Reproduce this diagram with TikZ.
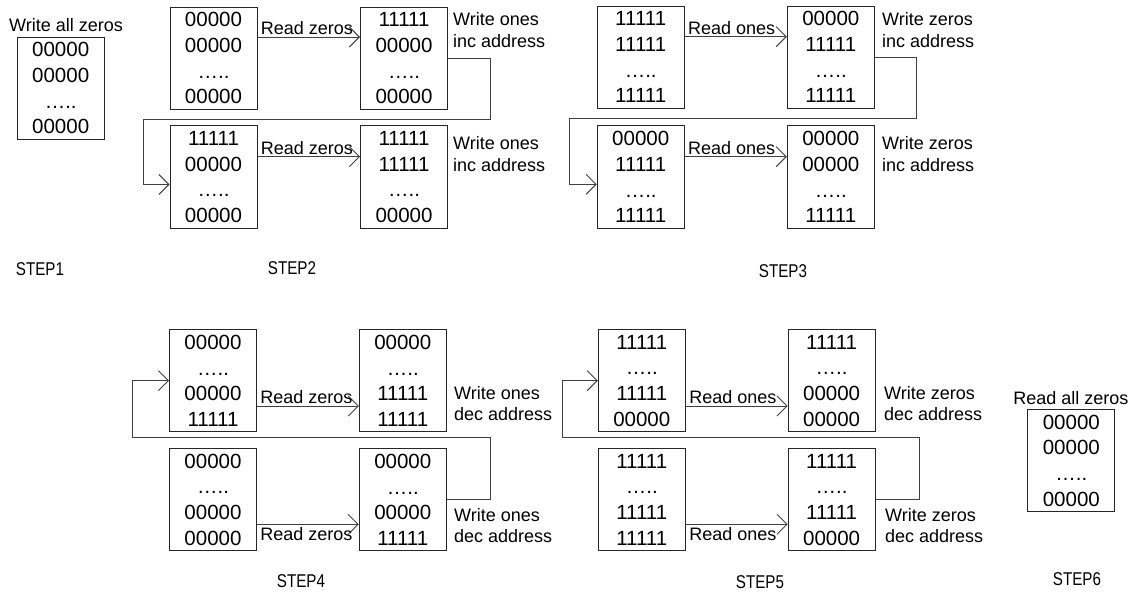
\documentclass[tikz,border=0pt]{standalone}
\usepackage{fontspec}
\setmainfont{Liberation Sans}
\usetikzlibrary{arrows.meta}
\newcommand{\steptext}[1]{\scalebox{0.82}[1]{#1}}
\begin{document}
\begin{tikzpicture}[x=1pt,y=-1pt,
  mem/.style={draw=black!85, line width=1pt, minimum width=87pt, minimum height=102pt,
    inner sep=0pt, align=center, font=\fontsize{20.5}{25.7}\selectfont},
  note/.style={font=\fontsize{18}{21.5}\selectfont, align=left, inner sep=0pt, anchor=west},
  title/.style={font=\fontsize{18}{21}\selectfont, inner sep=0pt},
  steplabel/.style={font=\fontsize{18.5}{20}\selectfont, inner sep=0pt},
  flow/.style={draw=black!75, line width=0.9pt, -{Straight Barb[length=10pt,width=20pt]}},
  rd/.style={font=\fontsize{18}{21}\selectfont, inner sep=0pt, pos=0, xshift=3pt},
  rdup/.style={rd, anchor=south west, yshift=1.5pt},
  rddown/.style={rd, anchor=north west, yshift=-2.5pt}
]
\useasboundingbox (0,0) rectangle (1135,607);

% ---------- STEP 1 ----------
\node[mem] (s1) at (60.7,88.3) {00000\\00000\\…..\\00000};
\node[title] (s1t) at (66,25) {Write all zeros};
\node[steplabel] (s1l) at (40,269) {\steptext{STEP1}};

% ---------- STEP 2 ----------
\node[mem] (s2a) at (213.5,58.3) {00000\\00000\\…..\\00000};
\node[mem] (s2b) at (404,58.3)   {11111\\00000\\…..\\00000};
\node[mem] (s2c) at (213.5,177)  {11111\\00000\\…..\\00000};
\node[mem] (s2d) at (404,177)    {11111\\11111\\…..\\00000};
\node[note] (s2n1) at (453,30) {Write ones\\inc address};
\node[note] (s2n2) at (453,154)  {Write ones\\inc address};
\draw[flow] (s2a.east |- 0,37) -- node[rdup] {Read zeros} (s2b.west |- 0,37);
\draw[flow] (s2c.east |- 0,156.7) -- node[rdup] {Read zeros} (s2d.west |- 0,156.7);
\draw[flow] (s2b.east) -- (490,58.3) -- (490,119.5) -- (143,119.5) -- (143,184.5) -- (s2c.west |- 0,184.5);
\node[steplabel] (s2l) at (292,268) {\steptext{STEP2}};

% ---------- STEP 3 ----------
\node[mem] (s3a) at (640.7,57.2) {11111\\11111\\…..\\11111};
\node[mem] (s3b) at (830.8,57.2) {00000\\11111\\…..\\11111};
\node[mem] (s3c) at (640.7,177)  {00000\\11111\\…..\\11111};
\node[mem] (s3d) at (830.8,177)  {00000\\00000\\…..\\11111};
\node[note] (s3n1) at (882,30) {Write zeros\\inc address};
\node[note] (s3n2) at (882,154)  {Write zeros\\inc address};
\draw[flow] (s3a.east |- 0,36.7) -- node[rdup] {Read ones} (s3b.west |- 0,36.7);
\draw[flow] (s3c.east |- 0,156.7) -- node[rdup] {Read ones} (s3d.west |- 0,156.7);
\draw[flow] (s3b.east) -- (916.7,57.2) -- (916.7,118.3) -- (569.3,118.3) -- (569.3,184.3) -- (s3c.west |- 0,184.3);
\node[steplabel] (s3l) at (783,271) {\steptext{STEP3}};

% ---------- STEP 4 ----------
\node[mem] (s4a) at (213,380.7)   {00000\\…..\\00000\\11111};
\node[mem] (s4b) at (402.8,380.7) {00000\\…..\\11111\\11111};
\node[mem] (s4c) at (213,499.7)   {00000\\…..\\00000\\00000};
\node[mem] (s4d) at (402.8,499.7) {00000\\…..\\00000\\11111};
\node[note] (s4n1) at (454,403.5) {Write ones\\dec address};
\node[note] (s4n2) at (454,525.5) {Write ones\\dec address};
\draw[flow] (s4a.east |- 0,406) -- node[rdup] {Read zeros} (s4b.west |- 0,406);
\draw[flow] (s4c.east |- 0,524.3) -- node[rddown] {Read zeros} (s4d.west |- 0,524.3);
\draw[flow] (s4d.east) -- (490,499.7) -- (490,437) -- (132.7,437) -- (132.7,380.7) -- (s4a.west);
\node[steplabel] (s4l) at (301,581) {\steptext{STEP4}};

% ---------- STEP 5 ----------
\node[mem] (s5a) at (641.8,380.7) {11111\\…..\\11111\\00000};
\node[mem] (s5b) at (831.6,380.7) {11111\\…..\\00000\\00000};
\node[mem] (s5c) at (641.8,499.7) {11111\\…..\\11111\\11111};
\node[mem] (s5d) at (831.6,499.7) {11111\\…..\\11111\\00000};
\node[note] (s5n1) at (884,403.5) {Write zeros\\dec address};
\node[note] (s5n2) at (885,525.5) {Write zeros\\dec address};
\draw[flow] (s5a.east |- 0,406) -- node[rdup] {Read ones} (s5b.west |- 0,406);
\draw[flow] (s5c.east |- 0,524.3) -- node[rddown] {Read ones} (s5d.west |- 0,524.3);
\draw[flow] (s5d.east) -- (919.3,499.7) -- (919.3,437) -- (562,437) -- (562,380.7) -- (s5a.west);
\node[steplabel] (s5l) at (760,582) {\steptext{STEP5}};

% ---------- STEP 6 ----------
\node[mem] (s6) at (1071.3,460.5) {00000\\00000\\…..\\00000};
\node[title] (s6t) at (1070.8,398) {Read all zeros};
\node[steplabel] (s6l) at (1077,579) {\steptext{STEP6}};
\end{tikzpicture}
\end{document}
